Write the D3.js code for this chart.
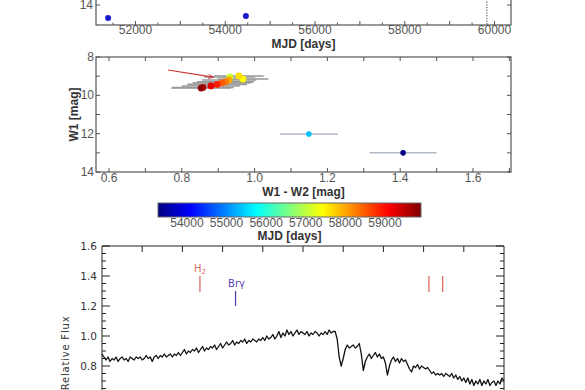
<!DOCTYPE html>
<html><head><meta charset="utf-8">
<script src="https://cdn.jsdelivr.net/npm/d3@7"></script>
<style>body{margin:0;background:#fff}svg{display:block}</style>
</head><body><svg id="c" width="585" height="390"></svg>
<script>
// ---------- data ----------
// top panel (light curve, partially visible)
const lcMJD = [51390, 54460];
const lcW1 = [14.65, 14.55];
const lcTicks = [52000, 54000, 56000, 58000, 60000];
const lcYTicks = [14];
const specEpochMJD = [59830];

// middle panel (colour-magnitude diagram)
const cmdW1W2 = [1.408, 1.149, 0.932, 0.968, 0.957, 0.930, 0.920, 0.910, 0.897, 0.880, 0.858, 0.853];
const cmdW1W2Err = [0.092, 0.080, 0.070, 0.070, 0.068, 0.075, 0.078, 0.080, 0.082, 0.080, 0.085, 0.082];
const cmdW1 = [13.0, 12.02, 9.04, 9.15, 8.99, 9.20, 9.30, 9.35, 9.43, 9.51, 9.59, 9.62];
const cmdMJD = [53300, 55350, 57100, 57430, 57610, 58000, 58300, 58500, 58900, 59250, 59600, 59800];
const cmdXTicks = [0.6, 0.8, 1.0, 1.2, 1.4, 1.6];
const cmdYTicks = [8, 10, 12, 14];
const arrowFrom = [0.762, 8.68];
const arrowTo = [0.886, 9.05];

// colour bar
const cbDomain = [53270, 59910];
const cbTicks = [54000, 55000, 56000, 57000, 58000, 59000];

// bottom panel (spectrum)
const specStart = 2.0, specStep = 0.0025;
const specFlux = [
0.88,0.86,0.84,0.86,0.83,0.85,0.84,0.86,0.83,0.85,
0.86,0.84,0.85,0.83,0.86,0.85,0.84,0.86,0.85,0.86,
0.84,0.85,0.87,0.85,0.86,0.83,0.86,0.87,0.85,0.87,
0.86,0.88,0.86,0.87,0.88,0.86,0.88,0.87,0.89,0.87,
0.89,0.91,0.88,0.90,0.89,0.91,0.90,0.92,0.89,0.91,
0.93,0.90,0.92,0.91,0.93,0.92,0.94,0.91,0.93,0.95,
0.92,0.94,0.96,0.94,0.95,0.97,0.94,0.96,0.95,0.97,
0.96,0.98,0.95,0.97,0.96,0.98,0.97,0.96,0.98,0.97,
0.99,0.97,1.00,0.98,0.99,1.01,0.98,1.00,1.03,0.99,
1.02,1.00,1.04,1.01,1.03,1.00,1.02,1.04,1.01,1.03,
1.02,1.01,1.03,1.00,1.02,1.01,1.03,1.02,1.00,1.02,
1.01,1.03,1.01,1.04,1.02,1.03,1.03,0.98,0.86,0.80,
0.85,0.91,0.94,0.92,0.93,0.94,0.92,0.93,0.95,0.88,
0.77,0.83,0.86,0.88,0.85,0.87,0.89,0.86,0.88,0.85,
0.86,0.82,0.74,0.80,0.84,0.86,0.83,0.85,0.82,0.85,
0.83,0.84,0.81,0.78,0.76,0.80,0.79,0.81,0.78,0.80,
0.79,0.78,0.79,0.77,0.75,0.76,0.74,0.75,0.74,0.75,
0.73,0.75,0.74,0.73,0.75,0.72,0.74,0.71,0.73,0.70,
0.72,0.69,0.72,0.68,0.71,0.67,0.70,0.68,0.71,0.67,
0.70,0.68,0.71,0.67,0.69,0.70,0.67,0.70,0.68,0.72,
0.70];
const specXTicks = [2.05, 2.10, 2.15, 2.20, 2.25, 2.30, 2.35, 2.40, 2.45];
const specYTicks = [0.8, 1.0, 1.2, 1.4, 1.6];
const h2Lines = [2.1218, 2.4066, 2.4237];
const brgLine = [2.1661];

// ---------- drawing ----------
const svg = d3.select("#c");
const font = "'Liberation Sans', Arial, sans-serif";
const axisCol = "#555";
const labCol = "#555";

const jetStops = ["#00007f","#0000ff","#007fff","#00ffff","#7fff7f","#ffff00","#ff7f00","#ff0000","#7f0000"];
const jet = d3.scaleLinear().domain(d3.range(9).map(i => i / 8)).range(jetStops).interpolate(d3.interpolateRgb);
const cbNorm = d3.scaleLinear().domain(cbDomain).range([0, 1]).clamp(true);

function frame(g, x0, y0, x1, y1) {
  g.append("rect").attr("x", x0).attr("y", y0).attr("width", x1 - x0).attr("height", y1 - y0)
    .attr("fill", "none").attr("stroke", axisCol).attr("stroke-width", 1.2);
}

// ===== top panel =====
{
  const x = d3.scaleLinear().domain([51120, 60367]).range([96, 511]);
  const y = d3.scaleLinear().domain([15, 14]).range([25, 5]);
  const g = svg.append("g");
  frame(g, 96, -20, 511, 25);
  const minor = d3.range(51500, 60367, 500);
  g.selectAll(".tb").data(minor).join("line")
    .attr("x1", d => x(d)).attr("x2", d => x(d))
    .attr("y1", 25).attr("y2", d => 25 - (d % 1000 === 0 ? 4 : 2.5))
    .attr("stroke", axisCol);
  g.selectAll(".tl").data(lcTicks).join("text")
    .attr("x", d => x(d)).attr("y", 34).attr("text-anchor", "middle")
    .attr("font-family", font).attr("font-size", 12).attr("fill", labCol).text(d => d);
  g.selectAll(".yt").data(lcYTicks).join("line")
    .attr("x1", 96).attr("x2", 100).attr("y1", d => y(d)).attr("y2", d => y(d)).attr("stroke", axisCol);
  g.selectAll(".yt2").data(lcYTicks).join("line")
    .attr("x1", 511).attr("x2", 507).attr("y1", d => y(d)).attr("y2", d => y(d)).attr("stroke", axisCol);
  g.selectAll(".yl").data(lcYTicks).join("text")
    .attr("x", 93).attr("y", d => y(d) + 4).attr("text-anchor", "end")
    .attr("font-family", font).attr("font-size", 12).attr("fill", labCol).text(d => d);
  g.selectAll(".dl").data(specEpochMJD).join("line")
    .attr("x1", d => x(d)).attr("x2", d => x(d)).attr("y1", -20).attr("y2", 25)
    .attr("stroke", "#333").attr("stroke-dasharray", "1.2,1.5");
  g.selectAll(".pt").data(lcMJD).join("circle")
    .attr("cx", d => x(d)).attr("cy", (d, i) => y(lcW1[i])).attr("r", 3)
    .attr("fill", "#1a1acc");
  g.append("text").attr("x", 303.5).attr("y", 48).attr("text-anchor", "middle")
    .attr("font-family", font).attr("font-size", 12).attr("font-weight", "bold").attr("fill", "#333")
    .text("MJD [days]");
}

// ===== middle panel =====
{
  const x = d3.scaleLinear().domain([0.5643, 1.7044]).range([96, 511]);
  const y = d3.scaleLinear().domain([8, 14]).range([57, 172]);
  const g = svg.append("g");
  const xt = d3.range(0.6, 1.701, 0.1);
  g.selectAll(".xb").data(xt).join("line").attr("x1", d => x(d)).attr("x2", d => x(d))
    .attr("y1", 172).attr("y2", 168).attr("stroke", axisCol);
  g.selectAll(".xt").data(xt).join("line").attr("x1", d => x(d)).attr("x2", d => x(d))
    .attr("y1", 57).attr("y2", 61).attr("stroke", axisCol);
  const yt = d3.range(8, 14.01, 1);
  g.selectAll(".yl1").data(yt).join("line").attr("x1", 96).attr("x2", 100)
    .attr("y1", d => y(d)).attr("y2", d => y(d)).attr("stroke", axisCol);
  g.selectAll(".yr1").data(yt).join("line").attr("x1", 511).attr("x2", 507)
    .attr("y1", d => y(d)).attr("y2", d => y(d)).attr("stroke", axisCol);
  frame(g, 96, 57, 511, 172);
  g.selectAll(".xlab").data(cmdXTicks).join("text")
    .attr("x", d => x(d)).attr("y", 182).attr("text-anchor", "middle")
    .attr("font-family", font).attr("font-size", 12).attr("fill", labCol).text(d => d.toFixed(1));
  g.selectAll(".ylab").data(cmdYTicks).join("text")
    .attr("x", 94).attr("y", d => y(d) + 4).attr("text-anchor", "end")
    .attr("font-family", font).attr("font-size", 12).attr("fill", labCol).text(d => d);
  g.append("text").attr("x", 303.5).attr("y", 196).attr("text-anchor", "middle")
    .attr("font-family", font).attr("font-size", 12).attr("font-weight", "bold").attr("fill", "#333")
    .text("W1 - W2 [mag]");
  g.append("text").attr("transform", "translate(78,114.5) rotate(-90)").attr("text-anchor", "middle")
    .attr("font-family", font).attr("font-size", 12).attr("font-weight", "bold").attr("fill", "#333")
    .text("W1 [mag]");
  g.selectAll(".eb").data(cmdW1W2).join("line")
    .attr("x1", (d, i) => x(d - cmdW1W2Err[i])).attr("x2", (d, i) => x(d + cmdW1W2Err[i]))
    .attr("y1", (d, i) => y(cmdW1[i])).attr("y2", (d, i) => y(cmdW1[i]))
    .attr("stroke", (d, i) => i < 2 ? "#8a97a8" : "#9a9a9a").attr("stroke-width", (d, i) => i < 2 ? 1 : 1.6);
  const defs = svg.append("defs");
  defs.append("marker").attr("id", "ah").attr("viewBox", "0 0 10 10").attr("refX", 9).attr("refY", 5)
    .attr("markerWidth", 5).attr("markerHeight", 5).attr("orient", "auto")
    .append("path").attr("d", "M0,1 L10,5 L0,9").attr("fill", "none").attr("stroke", "#cc3333").attr("stroke-width", 1.5);
  g.append("line").attr("x1", x(arrowFrom[0])).attr("y1", y(arrowFrom[1]))
    .attr("x2", x(arrowTo[0])).attr("y2", y(arrowTo[1]))
    .attr("stroke", "#cc3333").attr("stroke-width", 1.1).attr("marker-end", "url(#ah)");
  const idx = d3.range(cmdW1W2.length);
  g.selectAll(".p").data(idx).join("circle")
    .attr("cx", i => x(cmdW1W2[i])).attr("cy", i => y(cmdW1[i]))
    .attr("r", i => i < 2 ? 2.8 : 3.4)
    .attr("fill", i => jet(cbNorm(cmdMJD[i])));
}

// ===== colour bar =====
{
  const x = d3.scaleLinear().domain(cbDomain).range([158, 421]);
  const defs = svg.append("defs");
  const lg = defs.append("linearGradient").attr("id", "jetg").attr("x1", "0%").attr("x2", "100%");
  jetStops.forEach((c, i) => lg.append("stop").attr("offset", (i / 8 * 100) + "%").attr("stop-color", c));
  svg.append("rect").attr("x", 158).attr("y", 203).attr("width", 263).attr("height", 14)
    .attr("fill", "url(#jetg)").attr("stroke", "#666").attr("stroke-width", 1);
  svg.selectAll(".cbl").data(cbTicks).join("text")
    .attr("x", d => x(d)).attr("y", 227).attr("text-anchor", "middle")
    .attr("font-family", font).attr("font-size", 12).attr("fill", labCol).text(d => d);
  svg.append("text").attr("x", 289.5).attr("y", 240).attr("text-anchor", "middle")
    .attr("font-family", font).attr("font-size", 12).attr("font-weight", "bold").attr("fill", "#333")
    .text("MJD [days]");
}

// ===== bottom panel (spectrum) =====
{
  const x = d3.scaleLinear().domain([2.0, 2.5]).range([102, 504]);
  const y = d3.scaleLinear().domain([0.5, 1.6]).range([411, 246]);
  const g = svg.append("g");
  const sfont = "'DejaVu Sans', Helvetica, sans-serif";
  g.append("line").attr("x1", 102).attr("x2", 504).attr("y1", 246).attr("y2", 246).attr("stroke", "#222");
  g.append("line").attr("x1", 102).attr("x2", 102).attr("y1", 246).attr("y2", 411).attr("stroke", "#222");
  g.append("line").attr("x1", 504).attr("x2", 504).attr("y1", 246).attr("y2", 411).attr("stroke", "#222");
  g.selectAll(".tt").data(specXTicks).join("line").attr("x1", d => x(d)).attr("x2", d => x(d))
    .attr("y1", 246).attr("y2", 252).attr("stroke", "#222");
  const ym = d3.range(0.5, 1.601, 0.05);
  g.selectAll(".ly").data(ym).join("line").attr("x1", 102)
    .attr("x2", d => 102 + (Math.abs(d * 5 - Math.round(d * 5)) < 1e-6 ? 8 : 4))
    .attr("y1", d => y(d)).attr("y2", d => y(d)).attr("stroke", "#222");
  g.selectAll(".ry").data(ym).join("line").attr("x1", 504)
    .attr("x2", d => 504 - (Math.abs(d * 5 - Math.round(d * 5)) < 1e-6 ? 8 : 4))
    .attr("y1", d => y(d)).attr("y2", d => y(d)).attr("stroke", "#222");
  g.selectAll(".syl").data(specYTicks).join("text")
    .attr("x", 97).attr("y", d => y(d) + 4).attr("text-anchor", "end")
    .attr("font-family", sfont).attr("font-size", 10.5).attr("fill", "#333").text(d => d.toFixed(1));
  g.append("text").attr("transform", "translate(69,353) rotate(-90)").attr("text-anchor", "middle")
    .attr("font-family", sfont).attr("font-size", 10).attr("letter-spacing", 0.8).attr("fill", "#333")
    .text("Relative Flux");
  const h2Col = "#dd6e66", brCol = "#5a3fb0";
  g.selectAll(".h2").data(h2Lines).join("line").attr("x1", d => x(d)).attr("x2", d => x(d))
    .attr("y1", 276).attr("y2", 292).attr("stroke", h2Col).attr("stroke-width", 1.3);
  g.selectAll(".br").data(brgLine).join("line").attr("x1", d => x(d)).attr("x2", d => x(d))
    .attr("y1", 291).attr("y2", 306).attr("stroke", brCol).attr("stroke-width", 1.3);
  const h2t = g.append("text").attr("x", x(h2Lines[0])).attr("y", 272).attr("text-anchor", "middle")
    .attr("font-family", sfont).attr("font-size", 10).attr("fill", h2Col);
  h2t.append("tspan").text("H");
  h2t.append("tspan").attr("font-size", 7).attr("dy", 2).text("2");
  g.append("text").attr("x", x(brgLine[0]) + 1).attr("y", 287).attr("text-anchor", "middle")
    .attr("font-family", sfont).attr("font-size", 10).attr("fill", brCol).text("Brγ");
  const pts = specFlux.map((f, i) => [specStart + i * specStep, f]);
  g.append("path").datum(pts)
    .attr("d", d3.line().x(d => x(d[0])).y(d => y(d[1])))
    .attr("fill", "none").attr("stroke", "#111").attr("stroke-width", 1.3).attr("stroke-linejoin", "round");
}
</script></body></html>
